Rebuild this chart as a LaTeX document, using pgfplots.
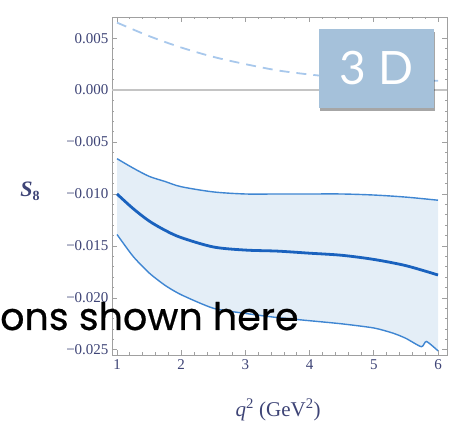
\documentclass[border=0pt]{standalone}
\usepackage{pgfplots}
\pgfplotsset{compat=1.18}
\usepackage{pgfplotstable}
\usetikzlibrary{shadows}
\usepackage{fontspec}
\setmainfont{Liberation Serif}
\newfontfamily\slidefont[FakeBold=0.6]{Poppins}
\newfontfamily\boxfont{Lato}

\definecolor{tickcol}{HTML}{3E4476}
\definecolor{framecol}{HTML}{A0A0A0}
\definecolor{zerocol}{HTML}{C4C4C4}
\definecolor{bandfill}{HTML}{E4EEF7}
\definecolor{edgecol}{HTML}{3F86D2}
\definecolor{midcol}{HTML}{1A62BE}
\definecolor{dashcol}{HTML}{A8C8EC}
\definecolor{boxblue}{HTML}{A5C1DA}

% central value, upper and lower edges of the band, and the dashed curve
\pgfplotstableread{
q     s
1.00  -0.0100
1.25  -0.0114
1.50  -0.0126
1.75  -0.0135
2.00  -0.0142
2.50  -0.0151
3.00  -0.0154
3.50  -0.0155
4.00  -0.0157
4.50  -0.0159
5.00  -0.0163
5.50  -0.0169
6.00  -0.0178
}\centraltab
\pgfplotstableread{
q     s
1.00  -0.0066
1.25  -0.0075
1.50  -0.0083
1.75  -0.0088
2.00  -0.0093
2.50  -0.0098
3.00  -0.0100
3.50  -0.0100
4.00  -0.0100
4.50  -0.0100
5.00  -0.0101
5.50  -0.0103
6.00  -0.0106
}\uppertab
\pgfplotstableread{
q     s
1.00  -0.0139
1.25  -0.0160
1.50  -0.0176
1.75  -0.0188
2.00  -0.0197
2.50  -0.0210
3.00  -0.0215
3.50  -0.0219
4.00  -0.0222
4.50  -0.0225
5.00  -0.0229
5.30  -0.0234
5.50  -0.0239
5.74  -0.0247
5.82  -0.0242
6.00  -0.0251
}\lowertab
\pgfplotstableread{
q     s
1.00  0.0065
1.50  0.0052
2.00  0.0041
2.50  0.0032
3.00  0.0025
3.50  0.0019
4.00  0.0015
4.50  0.0012
5.00  0.0010
5.50  0.0009
6.00  0.0009
}\dashtab

\begin{document}
\begin{tikzpicture}
\useasboundingbox (0pt,0pt) rectangle (459pt,435pt);
\begin{axis}[
  at={(112pt,80pt)}, anchor=south west,
  scale only axis, width=335pt, height=338pt,
  xmin=0.922, xmax=6.14, ymin=-0.0255, ymax=0.00704,
  axis line style={framecol, line width=0.9pt},
  tick style={framecol, line width=0.7pt},
  tick align=inside,
  major tick length=5pt, minor tick length=2.5pt,
  xtick={1,2,3,4,5,6},
  minor x tick num=4,
  ytick={-0.025,-0.02,-0.015,-0.01,-0.005,0,0.005},
  yticklabels={−0.025,−0.020,−0.015,−0.010,−0.005,0.000,0.005},
  minor y tick num=4,
  scaled y ticks=false,
  /pgf/number format/assume math mode=true,
  xticklabel style={font=\fontsize{15}{15}\selectfont, text=tickcol, yshift=-1pt},
  yticklabel style={font=\fontsize{15}{15}\selectfont, text=tickcol},
  xlabel={\textit{q}\textsuperscript{2} (GeV\textsuperscript{2})},
  xlabel style={at={(axis description cs:0.496,-0.163)}, anchor=center,
    font=\fontsize{21}{21}\selectfont, text=tickcol},
  ylabel={\textit{S}\raisebox{-0.35ex}{\fontsize{14}{14}\selectfont 8}},
  ylabel style={at={(axis description cs:-0.245,0.485)}, anchor=center,
    rotate=-90, font=\bfseries\fontsize{22}{22}\selectfont, text=tickcol},
]
  % zero line
  \addplot[zerocol, line width=2.2pt] coordinates {(0.922,0) (6.14,0)};
  % band between the upper and lower edges
  \addplot[fill=bandfill, draw=none, forget plot] coordinates {
    (1.00,-0.0066) (1.25,-0.0075) (1.50,-0.0083) (1.75,-0.0088) (2.00,-0.0093)
    (2.50,-0.0098) (3.00,-0.0100) (3.50,-0.0100) (4.00,-0.0100) (4.50,-0.0100)
    (5.00,-0.0101) (5.50,-0.0103) (6.00,-0.0106)
    (6.00,-0.0251) (5.82,-0.0242) (5.74,-0.0247) (5.50,-0.0239) (5.30,-0.0234)
    (5.00,-0.0229) (4.50,-0.0225) (4.00,-0.0222) (3.50,-0.0219) (3.00,-0.0215)
    (2.50,-0.0210) (2.00,-0.0197) (1.75,-0.0188) (1.50,-0.0176) (1.25,-0.0160)
    (1.00,-0.0139)} -- cycle;
  \addplot[edgecol, line width=1.4pt, smooth] table[x=q, y=s] {\uppertab};
  \addplot[edgecol, line width=1.4pt, smooth, tension=0.4] table[x=q, y=s] {\lowertab};
  \addplot[midcol, line width=2.8pt, smooth] table[x=q, y=s] {\centraltab};
  \addplot[dashcol, line width=1.8pt, dash pattern=on 10pt off 7pt, smooth]
    table[x=q, y=s] {\dashtab};
\end{axis}
% slide overlay
\node[fill=boxblue, minimum width=115pt, minimum height=79pt, inner sep=0pt,
  anchor=south west, text=white, font=\boxfont\fontsize{46}{46}\selectfont,
  drop shadow={shadow xshift=1pt, shadow yshift=-3pt, fill=black, opacity=0.35}]
  at (319pt,327pt) {3 D};
\node[anchor=base west, inner sep=0pt, font=\slidefont\fontsize{38}{38}\selectfont]
  at (0pt,105pt) {ons shown here};
\end{tikzpicture}
\end{document}
